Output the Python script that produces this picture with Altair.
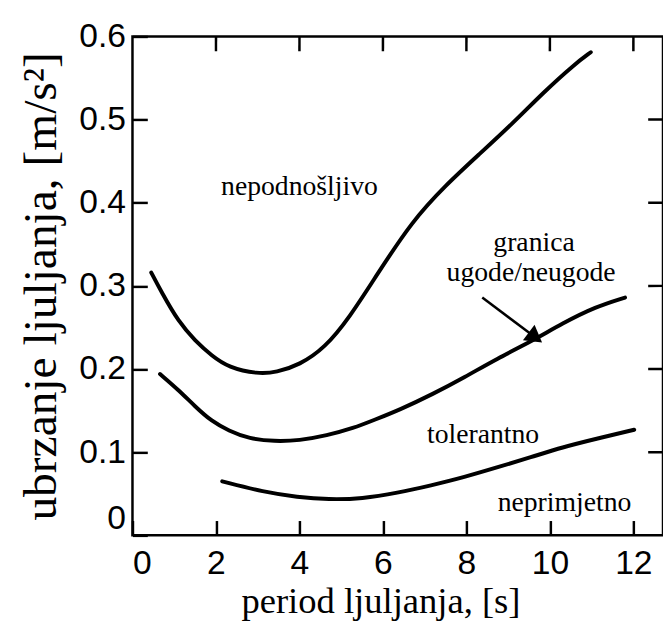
import altair as alt
import pandas as pd

# ---- data ----
upper_x = [0.45, 0.7, 1.1, 1.5, 1.9, 2.3, 3.0, 3.45, 4.0, 4.6, 5.2, 5.85, 6.7, 7.5, 8.3, 9.1, 9.85, 10.6, 10.98]
upper_y = [0.316, 0.292, 0.257, 0.234, 0.216, 0.202, 0.194, 0.196, 0.205, 0.225, 0.262, 0.313, 0.378, 0.421, 0.458, 0.495, 0.533, 0.567, 0.581]

middle_x = [0.66, 1.1, 1.5, 1.9, 2.3, 2.8, 3.4, 4.0, 4.65, 5.3, 5.8, 6.4, 7.2, 7.95, 8.75, 9.55, 10.3, 11.1, 11.8]
middle_y = [0.194, 0.175, 0.155, 0.137, 0.126, 0.116, 0.113, 0.114, 0.120, 0.129, 0.139, 0.151, 0.170, 0.190, 0.213, 0.233, 0.255, 0.275, 0.286]

lower_x = [2.15, 3.15, 3.95, 4.7, 5.5, 6.35, 7.15, 7.95, 8.75, 9.55, 10.3, 11.1, 12.02]
lower_y = [0.065, 0.052, 0.046, 0.043, 0.044, 0.051, 0.060, 0.070, 0.082, 0.094, 0.106, 0.116, 0.127]

label_text = ["nepodnošljivo", "granica", "ugode/neugode", "tolerantno", "neprimjetno"]
label_x = [4.0, 9.62, 9.55, 8.4, 10.35]
label_y = [0.419, 0.352, 0.316, 0.120, 0.039]

arrow_start = [8.38, 0.286]
arrow_head = [9.60, 0.240]

x_ticks = [0, 2, 4, 6, 8, 10, 12]
y_ticks = [0, 0.1, 0.2, 0.3, 0.4, 0.5, 0.6]
x_minor = [2, 4, 6, 8, 10, 12]
y_minor = [0.1, 0.2, 0.3, 0.4, 0.5]

# ---- layout constants ----
W, H = 537, 505
XMAX = 12.71
YMAX = 0.6
TICK = 15  # tick length, px
DX = TICK * XMAX / W
DY = TICK * YMAX / H

# ---- tables ----
rows = []
for name, xs, ys in [("upper", upper_x, upper_y), ("middle", middle_x, middle_y), ("lower", lower_x, lower_y)]:
    for i, (x, y) in enumerate(zip(xs, ys)):
        rows.append({"series": name, "order": i, "x": x, "y": y})
curves_df = pd.DataFrame(rows)
labels_df = pd.DataFrame({"text": label_text, "x": label_x, "y": label_y})
head_df = pd.DataFrame({"x": [arrow_head[0]], "y": [arrow_head[1]]})

seg = [{"x": arrow_start[0], "y": arrow_start[1], "x2": arrow_head[0], "y2": arrow_head[1]}]
for t in x_minor:   # top ticks, pointing down into the plot
    seg.append({"x": t + 0.001, "y": YMAX - 0.0005, "x2": t, "y2": YMAX - DY})
for t in y_minor:   # right ticks, pointing left into the plot
    seg.append({"x": XMAX - 0.005, "y": t + 0.00005, "x2": XMAX - DX, "y2": t})
seg_df = pd.DataFrame(seg)

xscale = alt.Scale(domain=[0, XMAX], nice=False, zero=False)
yscale = alt.Scale(domain=[0, YMAX], nice=False, zero=False)

x_axis = alt.Axis(values=x_ticks, domain=False, grid=False, ticks=True, tickSize=TICK,
                  tickWidth=2.5, tickColor="black", offset=-TICK,
                  labelFont="Liberation Sans", labelFontSize=34,
                  labelColor="black", labelPadding=12, title="period ljuljanja, [s]",
                  titleFont="Liberation Serif", titleFontSize=37, titleFontWeight="normal",
                  titleColor="black", titlePadding=3, titleX=251, titleAlign="center")
y_axis = alt.Axis(values=y_ticks, format=".1~f", domain=False, grid=False, ticks=True,
                  tickSize=TICK, tickWidth=2.5, tickColor="black", offset=-TICK,
                  labelFont="Liberation Sans", labelFontSize=34, labelColor="black", labelPadding=7,
                  labelBaseline={"condition": {"test": "datum.value == 0", "value": "bottom"}, "value": "middle"},
                  title="ubrzanje ljuljanja, [m/s²]", titleFont="Liberation Serif", titleFontSize=48,
                  titleFontWeight="normal", titleColor="black", titlePadding=14)

curves = alt.Chart(curves_df).mark_line(color="black", strokeWidth=4, interpolate="basis",
                                        strokeCap="round").encode(
    x=alt.X("x:Q", scale=xscale, axis=x_axis),
    y=alt.Y("y:Q", scale=yscale, axis=y_axis),
    detail="series:N",
    order="order:Q",
)

labels = alt.Chart(labels_df).mark_text(font="Liberation Serif", fontSize=28, color="black",
                                        align="center", baseline="middle").encode(
    x=alt.X("x:Q", scale=xscale),
    y=alt.Y("y:Q", scale=yscale),
    text="text:N",
)

segments = alt.Chart(seg_df).mark_rule(color="black", strokeWidth=2.5).encode(
    x=alt.X("x:Q", scale=xscale),
    y=alt.Y("y:Q", scale=yscale),
    x2="x2:Q", y2="y2:Q",
)

arrow_tip = alt.Chart(head_df).mark_point(shape="triangle", filled=True, size=380, angle=127,
                                          color="black", opacity=1).encode(
    x=alt.X("x:Q", scale=xscale),
    y=alt.Y("y:Q", scale=yscale),
)

chart = alt.layer(curves, labels, segments, arrow_tip).properties(
    width=W, height=H,
    autosize=alt.AutoSizeParams(type="none"),
    padding={"left": 126, "top": 25, "right": 0, "bottom": 92},
    background="white",
).configure_view(stroke="black", strokeWidth=2.5)

chart.save("out.html", embed_options={"renderer": "svg", "actions": False})
